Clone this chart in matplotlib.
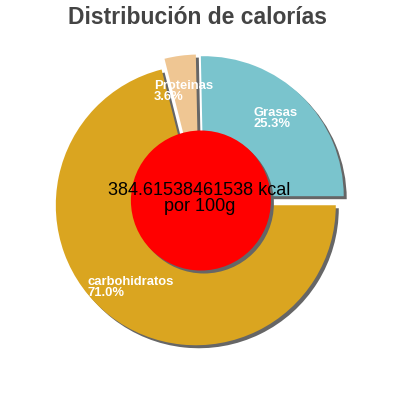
import matplotlib
matplotlib.use('Agg')
from matplotlib import pyplot as plt
from matplotlib.patches import Circle, Shadow

labels = ['Grasas', 'Proteinas', 'carbohidratos']
values = [25.3, 3.6, 71.0]
colors = ['#7ac4cd', '#efc693', '#daa520']

center_text = '384.61538461538 kcal\npor 100g'
title = 'Distribución de calorías'

# where each label's top-left corner goes (axes fraction)
label_pos = [(0.635, 0.733), (0.385, 0.80), (0.2175, 0.31)]

plt.rcParams['font.family'] = ['Liberation Sans', 'DejaVu Sans']


def plot():
    px = 140.0  # pixels per unit radius
    fig = plt.figure(figsize=(4, 4), dpi=100)
    ax = fig.add_axes([0, 0, 1, 1])

    # shadow offset is in data units scaled by dpi/72 -> about 3 px
    off = 3.0 / px * 72 / 100
    shadow = {'ox': off, 'oy': -off, 'facecolor': '#666666',
              'edgecolor': 'none', 'alpha': 1}
    ax.pie(values, colors=colors, startangle=0, counterclock=True,
           explode=[0.043] * len(values), radius=1.0, shadow=shadow,
           wedgeprops={'linewidth': 0}, normalize=True)

    ax.set_xlim(-199.5 / px, 200.5 / px)
    ax.set_ylim(-199.5 / px, 200.5 / px)
    ax.axis('off')

    red = Circle((0.01, 0.0), 0.5, facecolor='#ff0000', edgecolor='none', zorder=5)
    ax.add_patch(Shadow(red, off, -off, facecolor='#666666', edgecolor='none',
                        alpha=1, zorder=4.9))
    ax.add_patch(red)

    ax.text(0.0, 0.014, center_text, ha='center', va='center', fontsize=13,
            color='black', linespacing=0.95, zorder=6)

    for name, v, (x, y) in zip(labels, values, label_pos):
        ax.text(x, y, f'{name}\n{v:.1f}%', transform=ax.transAxes,
                ha='left', va='top', fontsize=9.4, color='white',
                fontweight='bold', linespacing=0.9, zorder=7)

    fig.text(0.495, 0.955, title, ha='center', va='center', fontsize=16.5,
             fontweight='bold', color='#444444')

    fig.savefig('out.png', dpi=100)
    plt.close(fig)


if __name__ == '__main__':
    plot()
